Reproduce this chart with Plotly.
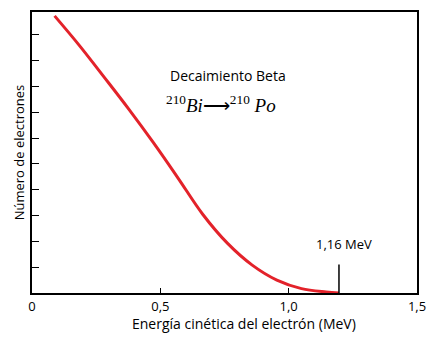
import plotly.graph_objects as go

# Data
energy = [0.088, 0.185, 0.281, 0.377, 0.473, 0.569, 0.665, 0.762,
          0.858, 0.954, 1.050, 1.146, 1.196]
electrons = [10.73, 9.58, 8.36, 7.12, 5.82, 4.45, 3.05, 1.92,
             1.08, 0.50, 0.17, 0.04, 0.0]

x_tickvals = [0, 0.5, 1.0, 1.5]
x_ticktext = ["0", "0,5", "1,0", "1,5"]
y_tickvals = [1, 2, 3, 4, 5, 6, 7, 8, 9, 10]

endpoint_x = 1.196
endpoint_label = "1,16 MeV"

title_text = "Decaimiento Beta"
formula_text = "<sup>210</sup><i>Bi</i>\u27f6<sup>210</sup> <i>Po</i>"
x_title = "Energía cinética del electrón (MeV)"
y_title = "Número de electrones"

fig = go.Figure()
fig.add_trace(go.Scatter(
    x=energy, y=electrons, mode="lines",
    line=dict(color="#e3222a", width=3, shape="spline", smoothing=1.0),
    hoverinfo="skip", showlegend=False,
))

# endpoint marker
fig.add_shape(type="line", xref="x", yref="y",
              x0=endpoint_x, x1=endpoint_x, y0=0, y1=1.1,
              line=dict(color="black", width=1.5))
fig.add_annotation(x=endpoint_x + 0.02, y=1.88, xref="x", yref="y",
                   text=endpoint_label, showarrow=False,
                   font=dict(family="Open Sans", size=13, color="black"))

fig.add_annotation(x=0.762, y=8.42, xref="x", yref="y", text=title_text,
                   showarrow=False,
                   font=dict(family="Open Sans", size=14, color="black"))
fig.add_annotation(x=0.735, y=7.3, xref="x", yref="y", text=formula_text,
                   showarrow=False,
                   font=dict(family="Liberation Serif", size=19, color="black"))

# x-axis title (offset to the right as in the reference)
fig.add_annotation(x=0.551, y=-0.107, xref="paper", yref="paper",
                   text=x_title, showarrow=False, yanchor="middle",
                   font=dict(family="Open Sans", size=14, color="black"))

axis_common = dict(showline=True, linecolor="black", linewidth=2, mirror=True,
                   showgrid=False, zeroline=False, ticks="inside",
                   tickcolor="black", tickwidth=1)

fig.update_xaxes(range=[0, 1.5], tickvals=x_tickvals, ticktext=x_ticktext,
                 ticklen=5,
                 tickfont=dict(family="Open Sans", size=13, color="black"),
                 **axis_common)
fig.update_yaxes(range=[0, 10.88], tickvals=y_tickvals, showticklabels=False,
                 ticklen=7,
                 title=dict(text=y_title,
                            font=dict(family="Open Sans", size=13, color="black"),
                            standoff=2),
                 **axis_common)

fig.update_layout(width=436, height=341,
                  margin=dict(l=32, r=12, t=10, b=48),
                  plot_bgcolor="white", paper_bgcolor="white")

fig.write_html("out.html")
